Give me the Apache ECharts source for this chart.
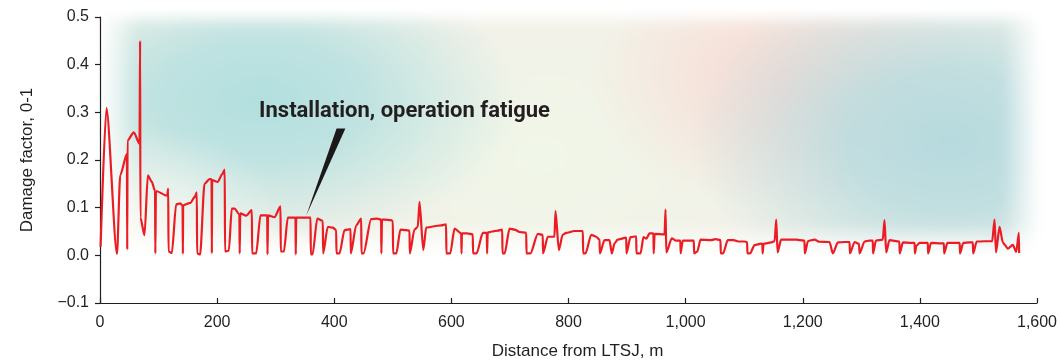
<!DOCTYPE html>
<html>
<head>
<meta charset="utf-8">
<script src="https://cdn.jsdelivr.net/npm/echarts@6/dist/echarts.min.js"></script>
<style>
  html, body { margin: 0; padding: 0; background: #ffffff; }
  #wrap { position: relative; width: 1060px; height: 360px; overflow: hidden; }
  /* soft coloured wash behind the plotting area */
  #wash {
    position: absolute; left: 100px; top: 15px; width: 940px; height: 246px;
    background:
      linear-gradient(to bottom, rgba(255,255,255,0) 85%, #ffffff 97%),
      linear-gradient(to right, #ffffff 0%, rgba(255,255,255,0) 4%, rgba(255,255,255,0) 96%, #ffffff 100%),
      linear-gradient(to bottom, rgba(255,255,255,0.6) 0%, rgba(255,255,255,0) 6%),
      radial-gradient(ellipse 150px 110px at 40px 220px, rgba(248,250,244,0.9), rgba(248,250,244,0) 100%),
      radial-gradient(ellipse 260px 150px at 160px 85px, rgba(178,223,223,1) 0%, rgba(178,223,223,0.8) 40%, rgba(178,223,223,0) 100%),
      radial-gradient(ellipse 260px 175px at 850px 125px, rgba(182,218,222,1) 0%, rgba(182,218,222,0.8) 40%, rgba(182,218,222,0) 100%),
      radial-gradient(ellipse 200px 130px at 690px 65px, rgba(247,220,213,1) 0%, rgba(247,220,213,0.7) 40%, rgba(247,220,213,0) 100%),
      radial-gradient(ellipse 260px 150px at 440px 140px, rgba(240,246,232,1), rgba(240,246,232,0) 100%),
      #f3f1e8;
    filter: blur(5px);
  }
  #chart { position: absolute; left: 0; top: 0; width: 1060px; height: 360px; }
</style>
</head>
<body>
<div id="wrap">
  <div id="wash"></div>
  <div id="chart"></div>
</div>
<script>
// Distance along the line from LTSJ (m)
const distanceM = [
  1, 11, 29, 34.5, 46, 46.5, 47, 57.7, 67.5, 68.5, 69, 76, 81.7, 88.5, 94, 94.5, 95.5,
  114.7, 116.5, 117, 122.7, 130, 137.4, 141, 141.5, 142, 154.5, 161.4, 165.3, 165.8, 171,
  178.4, 187, 190.5, 191, 191.5, 201, 208.6, 213, 213.5, 220,
  225, 229.7, 238, 238.5, 239.5, 249.6, 259.3, 259.8, 266.7, 274, 285.5, 286, 287, 298,
  308.2, 308.7, 314, 320.7, 333.8, 334.3, 335, 343.5, 353.8, 359.5, 360, 363, 371, 380.5,
  381, 389, 397.5, 403.3, 403.8, 409, 417.5, 427.8, 428.3, 437.5, 446, 446.5, 450, 463,
  473, 480, 480.5, 481.5, 485.8, 497, 500, 500.5, 506, 513, 522.5, 528.5, 529, 537, 542.7,
  545.6, 552, 557, 571, 582.6, 591, 591.5, 598, 605.4, 616.8, 617.3, 618, 627, 636.6, 637,
  643, 653.7, 660.5, 661, 662, 669.7, 679.3, 686.8, 687.3, 691, 699.3, 708, 716.4, 727.8,
  728.3, 735, 747.6, 756, 756.5, 764.7, 776, 777.8, 783.5, 790, 796, 810, 824.5, 825, 829,
  838.8, 847.3, 853, 853.5, 861.5, 870, 874, 878.6, 884, 898.6, 899, 905.7, 915.6, 916, 923,
  928, 933, 938.3, 945, 945.5, 947, 964, 965.7, 967, 976.4, 983, 991, 991.5, 995, 1008, 1014,
  1014.5, 1020, 1025.4, 1043.7, 1051, 1059.6, 1060, 1064, 1072, 1082, 1090, 1100, 1105,
  1105.5, 1110, 1117.7, 1129, 1131, 1131.5, 1133, 1146, 1152, 1154.7, 1157, 1163, 1189,
  1195, 1203, 1203.5, 1209, 1220, 1228.7, 1245.7, 1251.4, 1260, 1271, 1280, 1280.5, 1288.5,
  1296, 1297, 1305.5, 1314, 1319.6, 1320, 1325, 1336.7, 1339.6, 1342.5, 1348, 1365, 1365.5,
  1371, 1385.3, 1391, 1391.5, 1394, 1399.5, 1411, 1413.6, 1414, 1419, 1436.4, 1441, 1441.5,
  1447, 1462, 1468, 1468.5, 1474, 1485, 1490.4, 1491, 1497, 1523.5, 1527.5, 1530, 1536,
  1541.7, 1545, 1550, 1558.8, 1564.6, 1569, 1569.5
];

// Damage factor (0-1) at each distance
const damageFactor = [
  0.018, 0.309, 0.003, 0.168, 0.213, 0.012, 0.241, 0.258, 0.234, 0.45, 0.079, 0.042, 0.168, 0.154, 0.135, 0.004, 0.135,
  0.125, 0.140, 0.008, 0.005, 0.107, 0.109, 0.104, 0.003, 0.105, 0.110, 0.122, 0.132, 0.004, 0.002,
  0.150, 0.160, 0.160, 0.004, 0.158, 0.154, 0.170, 0.180, 0.008, 0.010,
  0.098, 0.098, 0.086, 0.004, 0.088, 0.083, 0.095, 0.004, 0.004, 0.084, 0.084, 0.002, 0.084, 0.080,
  0.103, 0.008, 0.008, 0.079, 0.079, 0.002, 0.079, 0.079, 0.079, 0.079, 0.002, 0.002, 0.077, 0.072,
  0.004, 0.060, 0.058, 0.053, 0.004, 0.004, 0.053, 0.055, 0.004, 0.063, 0.077, 0.004, 0.004, 0.076,
  0.077, 0.075, 0.004, 0.075, 0.075, 0.074, 0.072, 0.004, 0.004, 0.054, 0.053, 0.052, 0.004, 0.054, 0.060,
  0.112, 0.011, 0.058, 0.061, 0.063, 0.065, 0.004, 0.004, 0.056, 0.046, 0.004, 0.046, 0.046, 0.044, 0.004,
  0.004, 0.047, 0.047, 0.004, 0.048, 0.050, 0.052, 0.054, 0.004, 0.004, 0.056, 0.054, 0.049, 0.047,
  0.004, 0.004, 0.045, 0.043, 0.004, 0.039, 0.039, 0.093, 0.011, 0.043, 0.047, 0.051, 0.051, 0.004, 0.004,
  0.043, 0.039, 0.033, 0.004, 0.032, 0.032, 0.004, 0.025, 0.033, 0.037, 0.004, 0.038, 0.040, 0.004, 0.004,
  0.038, 0.035, 0.046, 0.046, 0.004, 0.045, 0.044, 0.096, 0.006, 0.0355, 0.031, 0.031, 0.004, 0.031, 0.031, 0.031,
  0.004, 0.008, 0.033, 0.032, 0.034, 0.032, 0.004, 0.004, 0.032, 0.032, 0.029, 0.029, 0.028,
  0.004, 0.004, 0.0215, 0.0245, 0.024, 0.004, 0.024, 0.027, 0.030, 0.075, 0.006, 0.033, 0.033,
  0.032, 0.031, 0.004, 0.030, 0.033, 0.0285, 0.028, 0.004, 0.027, 0.028, 0.028, 0.004, 0.028,
  0.024, 0.004, 0.029, 0.031, 0.031, 0.004, 0.031, 0.033, 0.074, 0.006, 0.032, 0.029, 0.004,
  0.027, 0.026, 0.026, 0.004, 0.020, 0.026, 0.026, 0.026, 0.004, 0.026, 0.025, 0.025, 0.004,
  0.026, 0.026, 0.026, 0.004, 0.026, 0.027, 0.027, 0.004, 0.029, 0.030, 0.075, 0.006, 0.060,
  0.027, 0.022, 0.014, 0.022, 0.007, 0.047, 0.005
];

// Axis ranges and ticks
const xRange = [0, 1600], xStep = 200;
const yRange = [-0.1, 0.5], yStep = 0.1;

// Callout: text anchor, pointer tip and pointer base, in data units
const calloutText = 'Installation, operation fatigue';
const calloutAt = [520, 0.301];
const calloutTip = [352, 0.083];
const calloutBase = [[404, 0.266], [419, 0.266]];

const ink = '#231f20';
const lineRed = '#ec1c24';

const chart = echarts.init(document.getElementById('chart'), null, { renderer: 'canvas' });

chart.setOption({
  backgroundColor: 'transparent',
  animation: false,
  grid: { left: 100, right: 23, top: 17, bottom: 57, containLabel: false, outerBoundsMode: 'none' },
  xAxis: {
    type: 'value',
    min: xRange[0], max: xRange[1], interval: xStep,
    name: 'Distance from LTSJ, m',
    nameLocation: 'middle', nameGap: 40,
    nameTextStyle: { color: ink, fontSize: 17, fontFamily: 'Liberation Sans', padding: [0, 0, 0, 18] },
    axisLine: { show: true, onZero: false, lineStyle: { color: ink, width: 1.2 } },
    axisTick: { show: true, inside: true, length: 5, lineStyle: { color: ink, width: 1.2 } },
    axisLabel: {
      color: ink, fontSize: 16, fontFamily: 'Liberation Sans', margin: 12,
      formatter: v => v.toLocaleString('en-US')
    },
    splitLine: { show: false }
  },
  yAxis: {
    type: 'value',
    min: yRange[0], max: yRange[1], interval: yStep,
    name: 'Damage factor, 0-1',
    nameLocation: 'middle', nameGap: 64, nameRotate: 90,
    nameTextStyle: { color: ink, fontSize: 17, fontFamily: 'Liberation Sans' },
    axisLine: { show: true, onZero: false, lineStyle: { color: ink, width: 1.2 } },
    axisTick: { show: true, inside: false, length: 5, lineStyle: { color: ink, width: 1.2 } },
    axisLabel: {
      color: ink, fontSize: 16, fontFamily: 'Liberation Sans', margin: 11,
      formatter: v => {
        const r = Math.round(v * 10) / 10;
        return r < 0 ? '\u2212' + Math.abs(r).toFixed(1) : r.toFixed(1);
      }
    },
    splitLine: { show: false }
  },
  series: [{
    type: 'line',
    data: distanceM.map((d, i) => [d, damageFactor[i]]),
    showSymbol: false,
    smooth: 0.25,
    smoothMonotone: 'x',
    lineStyle: { color: lineRed, width: 2.2 },
    z: 3
  }]
});

// Callout placed through the axes' own scales
const px = p => chart.convertToPixel({ gridIndex: 0 }, p);
const tip = px(calloutTip), b0 = px(calloutBase[0]), b1 = px(calloutBase[1]), at = px(calloutAt);
chart.setOption({
  graphic: [
    {
      type: 'polygon', z: 10,
      shape: { points: [b0, b1, tip] },
      style: { fill: '#1a1a1a' }
    },
    {
      type: 'text', z: 10, x: at[0], y: at[1],
      style: {
        text: calloutText, fill: '#231f20',
        font: 'bold 22px Roboto', align: 'center', verticalAlign: 'middle'
      }
    }
  ]
});
</script>
</body>
</html>
